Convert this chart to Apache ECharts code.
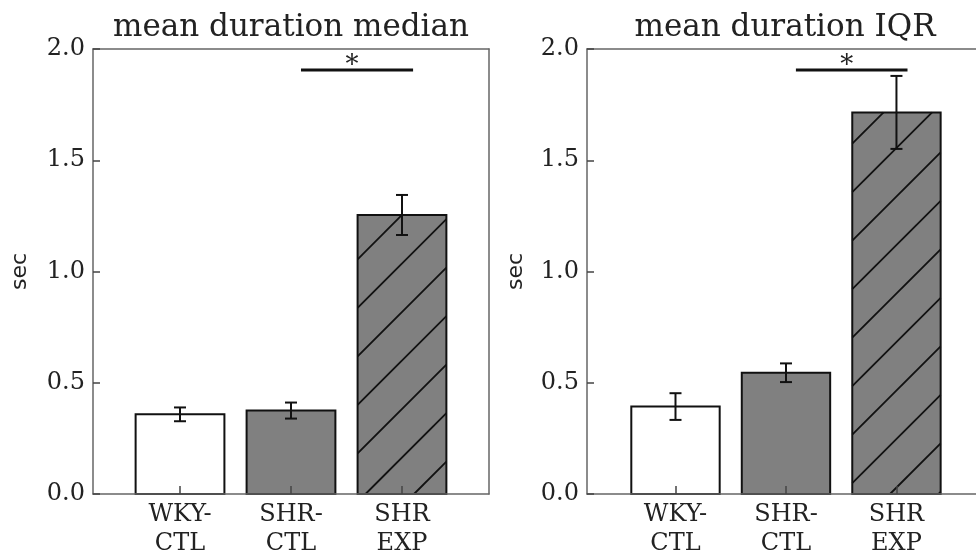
<!DOCTYPE html>
<html>
<head>
<meta charset="utf-8">
<script src="https://cdn.jsdelivr.net/npm/echarts@6/dist/echarts.min.js"></script>
<style>
  html, body { margin: 0; padding: 0; background: #fff; }
  #chart { width: 976px; height: 558px; }
</style>
</head>
<body>
<div id="chart"></div>
<script>
// Groups along the x axis
const categories = ['WKY-\nCTL', 'SHR-\nCTL', 'SHR\nEXP'];

// Panel 1: mean duration median (sec), with error half-widths
const medianValues = [0.358, 0.375, 1.254];
const medianErrors = [0.031, 0.036, 0.090];

// Panel 2: mean duration IQR (sec), with error half-widths
const iqrValues = [0.393, 0.545, 1.715];
const iqrErrors = [0.060, 0.042, 0.164];

// Significance bracket: from group, to group, height, star position
const medianSig = [1.09, 2.10, 1.906, 1.55];
const iqrSig = [1.09, 2.10, 1.906, 1.55];

// y axis ticks
const yTicks = [0, 0.5, 1.0, 1.5, 2.0];

const panelTitles = ['mean duration median', 'mean duration IQR'];

const SERIF = 'DejaVu Serif';
const SANS = 'DejaVu Sans';
const TEXT = '#222';
const FRAME = { color: '#666', width: 1.5 };
const BAR_WIDTH = 0.8;
const fills = ['#ffffff', '#808080', '#808080'];
const hatched = [false, false, true];
const HATCH_STEP = 48.5;

// The second panel runs past the right edge of the canvas, so its x range stops early.
const panels = [
  { grid: { left: 93, top: 49, width: 396, height: 448 }, xMin: -0.784, xMax: 2.784, nameGap: 62, titleX: 291, phase: 35 },
  { grid: { left: 587, top: 49, width: 389, height: 448 }, xMin: -0.801, xMax: 2.72, nameGap: 60, titleX: 785, phase: 26 }
];

function xAxisOpt(idx) {
  const p = panels[idx];
  return {
    gridIndex: idx, type: 'value', min: p.xMin, max: p.xMax, z: 10,
    axisLine: { show: true, onZero: false, lineStyle: FRAME },
    splitLine: { show: false },
    axisTick: { show: true, inside: true, length: 8, customValues: [0, 1, 2], lineStyle: { color: '#444', width: 1.5 } },
    axisLabel: {
      customValues: [0, 1, 2], formatter: v => categories[Math.round(v)],
      fontFamily: SERIF, fontSize: 24, lineHeight: 29, color: TEXT, margin: 6
    }
  };
}

// Plain line along the top edge of a panel
function topEdgeOpt(idx) {
  return {
    gridIndex: idx, type: 'value', position: 'top', min: 0, max: 1,
    axisLine: { show: true, onZero: false, lineStyle: FRAME },
    axisTick: { show: false }, axisLabel: { show: false }, splitLine: { show: false }
  };
}

function yAxisOpt(idx) {
  return {
    gridIndex: idx, type: 'value', min: yTicks[0], max: yTicks[yTicks.length - 1], interval: 0.5, z: 10,
    axisLine: { show: true, onZero: false, lineStyle: FRAME },
    splitLine: { show: false },
    axisTick: { show: true, inside: true, length: 7, lineStyle: { color: '#444', width: 1.5 } },
    axisLabel: { formatter: v => v.toFixed(1), fontFamily: SERIF, fontSize: 24, color: TEXT, margin: 8 },
    name: 'sec', nameLocation: 'middle', nameRotate: 90, nameGap: panels[idx].nameGap,
    nameTextStyle: { fontFamily: SANS, fontSize: 22, color: TEXT }
  };
}

// Plain line along the right edge of the first panel
function rightEdgeOpt(idx) {
  return {
    gridIndex: idx, type: 'value', position: 'right', min: 0, max: 1,
    axisLine: { show: true, onZero: false, lineStyle: FRAME },
    axisTick: { show: false }, axisLabel: { show: false }, splitLine: { show: false }
  };
}

function barSeries(idx, values) {
  const phase = panels[idx].phase;
  return {
    type: 'custom', xAxisIndex: idx, yAxisIndex: idx, z: 2, clip: false,
    data: values.map((v, i) => [i, v]),
    renderItem: (params, api) => {
      const i = api.value(0), v = api.value(1);
      const p0 = api.coord([i - BAR_WIDTH / 2, v]);
      const p1 = api.coord([i + BAR_WIDTH / 2, 0]);
      const x0 = p0[0], y0 = p0[1], x1 = p1[0], y1 = p1[1];
      const children = [{
        type: 'rect', shape: { x: x0, y: y0, width: x1 - x0, height: y1 - y0 },
        style: { fill: fills[i], stroke: null }
      }];
      if (hatched[i]) {
        // diagonal '/' lines: x + y = c, clipped to the bar rectangle
        const cMin = x0 + y0, cMax = x1 + y1;
        let c = phase + Math.ceil((cMin - phase) / HATCH_STEP) * HATCH_STEP;
        for (; c < cMax; c += HATCH_STEP) {
          const xa = Math.max(x0, c - y1), xb = Math.min(x1, c - y0);
          if (xb <= xa) continue;
          children.push({
            type: 'line', shape: { x1: xa, y1: c - xa, x2: xb, y2: c - xb },
            style: { stroke: '#111', lineWidth: 1.8 }
          });
        }
      }
      children.push({
        type: 'rect', shape: { x: x0, y: y0, width: x1 - x0, height: y1 - y0 },
        style: { fill: null, stroke: '#111', lineWidth: 2 }
      });
      return { type: 'group', children };
    }
  };
}

function errorSeries(idx, values, errors) {
  return {
    type: 'custom', xAxisIndex: idx, yAxisIndex: idx, z: 5, clip: false,
    data: values.map((v, i) => [i, v, errors[i]]),
    renderItem: (params, api) => {
      const i = api.value(0), v = api.value(1), e = api.value(2);
      const top = api.coord([i, v + e]);
      const bot = api.coord([i, v - e]);
      const hw = 6;
      const st = { stroke: '#111', lineWidth: 2 };
      return {
        type: 'group', children: [
          { type: 'line', shape: { x1: top[0], y1: top[1], x2: bot[0], y2: bot[1] }, style: st },
          { type: 'line', shape: { x1: top[0] - hw, y1: top[1], x2: top[0] + hw, y2: top[1] }, style: st },
          { type: 'line', shape: { x1: bot[0] - hw, y1: bot[1], x2: bot[0] + hw, y2: bot[1] }, style: st }
        ]
      };
    }
  };
}

function sigSeries(idx, sig) {
  return {
    type: 'custom', xAxisIndex: idx, yAxisIndex: idx, z: 5, clip: false,
    data: [sig],
    renderItem: (params, api) => {
      const a = api.coord([api.value(0), api.value(2)]);
      const b = api.coord([api.value(1), api.value(2)]);
      const s = api.coord([api.value(3), api.value(2)]);
      return {
        type: 'group', children: [
          { type: 'line', shape: { x1: a[0], y1: a[1], x2: b[0], y2: b[1] }, style: { stroke: '#111', lineWidth: 3 } },
          { type: 'text', x: s[0], y: s[1] - 4, style: { text: '*', fontFamily: SERIF, fontSize: 26, fill: TEXT, align: 'center', verticalAlign: 'middle' } }
        ]
      };
    }
  };
}

const chart = echarts.init(document.getElementById('chart'), null, { renderer: 'canvas' });
chart.setOption({
  backgroundColor: '#ffffff',
  animation: false,
  title: panelTitles.map((t, k) => ({
    text: t,
    left: panels[k].titleX,
    top: 12,
    textAlign: 'center',
    padding: 0,
    textStyle: { fontFamily: SERIF, fontSize: 31, fontWeight: 'normal', color: TEXT }
  })),
  grid: panels.map(p => Object.assign({ show: false }, p.grid)),
  xAxis: [xAxisOpt(0), xAxisOpt(1), topEdgeOpt(0), topEdgeOpt(1)],
  yAxis: [yAxisOpt(0), yAxisOpt(1), rightEdgeOpt(0)],
  series: [
    barSeries(0, medianValues),
    errorSeries(0, medianValues, medianErrors),
    sigSeries(0, medianSig),
    barSeries(1, iqrValues),
    errorSeries(1, iqrValues, iqrErrors),
    sigSeries(1, iqrSig)
  ]
});
</script>
</body>
</html>
